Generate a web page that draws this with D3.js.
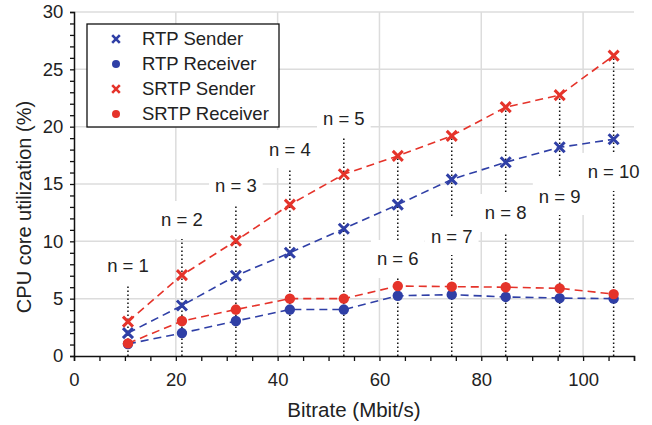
<!DOCTYPE html>
<html>
<head>
<meta charset="utf-8">
<script src="https://cdn.jsdelivr.net/npm/d3@7"></script>
<style>
  body { margin: 0; background: #fff; }
  text { font-family: "Liberation Sans", Arial, sans-serif; fill: #222; }
</style>
</head>
<body>
<script>
// data
var bitrate      = [10.6, 21.2, 31.8, 42.4, 53.0, 63.6, 74.2, 84.8, 95.4, 106.0];
var rtpSender    = [2.0, 4.4, 7.0, 9.0, 11.1, 13.2, 15.4, 16.9, 18.2, 18.9];
var rtpReceiver  = [1.05, 2.0, 3.05, 4.05, 4.05, 5.25, 5.35, 5.15, 5.05, 5.0];
var srtpSender   = [3.0, 7.05, 10.05, 13.2, 15.85, 17.45, 19.2, 21.7, 22.75, 26.2];
var srtpReceiver = [1.1, 3.05, 4.05, 5.0, 5.0, 6.1, 6.05, 6.0, 5.9, 5.4];
var nLabels      = ["n = 1", "n = 2", "n = 3", "n = 4", "n = 5", "n = 6", "n = 7", "n = 8", "n = 9", "n = 10"];
var nLabelY      = [7.85, 11.86, 14.9, 18.05, 20.75, 8.46, 10.46, 12.47, 13.95, 16.05];
var xTicks = [0, 20, 40, 60, 80, 100];
var yTicks = [0, 5, 10, 15, 20, 25, 30];

var blue = "#2f3fa6";
var red = "#e5332a";

var series = [
  {name: "RTP Sender", values: rtpSender, color: blue, marker: "x"},
  {name: "RTP Receiver", values: rtpReceiver, color: blue, marker: "o"},
  {name: "SRTP Sender", values: srtpSender, color: red, marker: "x"},
  {name: "SRTP Receiver", values: srtpReceiver, color: red, marker: "o"}
];

var width = 652, height = 425;
var margin = {top: 12, right: 18, bottom: 69, left: 74};

var svg = d3.select("body").append("svg")
  .attr("width", width)
  .attr("height", height);

var xScale = d3.scaleLinear().domain([0, 110]).range([margin.left, width - margin.right]);
var yScale = d3.scaleLinear().domain([0, 30]).range([height - margin.bottom, margin.top]);

// grid
svg.append("g").selectAll("line")
  .data(xTicks.slice(1))
  .enter().append("line")
  .attr("x1", function(d) { return xScale(d); })
  .attr("x2", function(d) { return xScale(d); })
  .attr("y1", yScale(0))
  .attr("y2", yScale(30))
  .attr("stroke", "#dcdcdc")
  .attr("stroke-width", 1.5);

svg.append("g").selectAll("line")
  .data(yTicks.slice(1))
  .enter().append("line")
  .attr("x1", xScale(0))
  .attr("x2", xScale(110))
  .attr("y1", function(d) { return yScale(d); })
  .attr("y2", function(d) { return yScale(d); })
  .attr("stroke", "#dcdcdc")
  .attr("stroke-width", 1.5);

// dotted verticals for each n
svg.append("g").selectAll("line")
  .data(bitrate)
  .enter().append("line")
  .attr("x1", function(d) { return xScale(d); })
  .attr("x2", function(d) { return xScale(d); })
  .attr("y1", yScale(0))
  .attr("y2", function(d, i) { return yScale(Math.max(srtpSender[i], nLabelY[i])); })
  .attr("stroke", "#111")
  .attr("stroke-width", 1.5)
  .attr("stroke-dasharray", "1.4,2.6");

// n labels on white boxes
var lab = svg.append("g").selectAll("g")
  .data(nLabels)
  .enter().append("g");

lab.append("text")
  .attr("x", function(d, i) { return xScale(bitrate[i]); })
  .attr("y", function(d, i) { return yScale(nLabelY[i]); })
  .attr("dy", "0.35em")
  .attr("text-anchor", "middle")
  .style("font-size", "18.5px")
  .text(function(d) { return d; });

lab.each(function() {
  var g = d3.select(this);
  var bb = g.select("text").node().getBBox();
  g.insert("rect", "text")
    .attr("x", bb.x - 6)
    .attr("y", bb.y + bb.height / 2 - 19)
    .attr("width", bb.width + 12)
    .attr("height", 38)
    .attr("fill", "#fff");
});

// axes
var xAxis = d3.axisBottom(xScale).tickValues(d3.range(0, 111, 5)).tickSize(5)
  .tickFormat(function(d) { return d % 20 == 0 && d <= 100 ? d : ""; });
var yAxis = d3.axisLeft(yScale).tickValues(d3.range(0, 31, 1)).tickSize(4)
  .tickFormat(function(d) { return d % 5 == 0 ? d : ""; });

var gx = svg.append("g")
  .attr("transform", "translate(0," + yScale(0) + ")")
  .call(xAxis);
var gy = svg.append("g")
  .attr("transform", "translate(" + xScale(0) + ",0)")
  .call(yAxis);

[gx, gy].forEach(function(g) {
  g.select(".domain").attr("stroke", "#111").attr("stroke-width", 1.5);
  g.selectAll(".tick line").attr("stroke", "#111").attr("stroke-width", 1.3);
  g.selectAll(".tick text").style("font-size", "18.5px").attr("fill", "#333")
    .style("font-family", "Liberation Sans, Arial, sans-serif");
});
gx.selectAll(".tick text").attr("dy", "1.2em");
gy.selectAll(".tick text").attr("dx", "-0.2em");

svg.append("text")
  .attr("x", (xScale(0) + xScale(110)) / 2)
  .attr("y", 417)
  .attr("text-anchor", "middle")
  .style("font-size", "20.5px")
  .attr("fill", "#333")
  .text("Bitrate (Mbit/s)");

svg.append("text")
  .attr("transform", "translate(31,207) rotate(-90)")
  .attr("text-anchor", "middle")
  .style("font-size", "20px")
  .attr("fill", "#333")
  .text("CPU core utilization (%)");

// series lines and markers
var line = d3.line()
  .x(function(d, i) { return xScale(bitrate[i]); })
  .y(function(d) { return yScale(d); });

function drawMarker(g, type, color, cx, cy, s) {
  if (type == "x") {
    g.append("path")
      .attr("d", "M" + (cx - s) + "," + (cy - s) + "L" + (cx + s) + "," + (cy + s) +
                 "M" + (cx - s) + "," + (cy + s) + "L" + (cx + s) + "," + (cy - s))
      .attr("stroke", color)
      .attr("stroke-width", s > 4 ? 3 : 2.6)
      .attr("fill", "none");
  } else {
    g.append("circle")
      .attr("cx", cx)
      .attr("cy", cy)
      .attr("r", s)
      .attr("fill", color);
  }
}

series.forEach(function(s) {
  var g = svg.append("g");
  g.append("path")
    .datum(s.values)
    .attr("d", line)
    .attr("fill", "none")
    .attr("stroke", s.color)
    .attr("stroke-width", 1.6)
    .attr("stroke-dasharray", "8,5");
  s.values.forEach(function(v, i) {
    drawMarker(g, s.marker, s.color, xScale(bitrate[i]), yScale(v), s.marker == "x" ? 5 : 5.2);
  });
});

// legend
var legend = svg.append("g").attr("transform", "translate(87,24)");
legend.append("rect")
  .attr("width", 192)
  .attr("height", 103)
  .attr("fill", "#fff")
  .attr("stroke", "#111")
  .attr("stroke-width", 1.3);

series.forEach(function(s, i) {
  var y = 15 + i * 25;
  drawMarker(legend, s.marker, s.color, 29, y, s.marker == "x" ? 3.8 : 4);
  legend.append("text")
    .attr("x", 55)
    .attr("y", y)
    .attr("dy", "0.35em")
    .style("font-size", "18.5px")
    .text(s.name);
});
</script>
</body>
</html>
